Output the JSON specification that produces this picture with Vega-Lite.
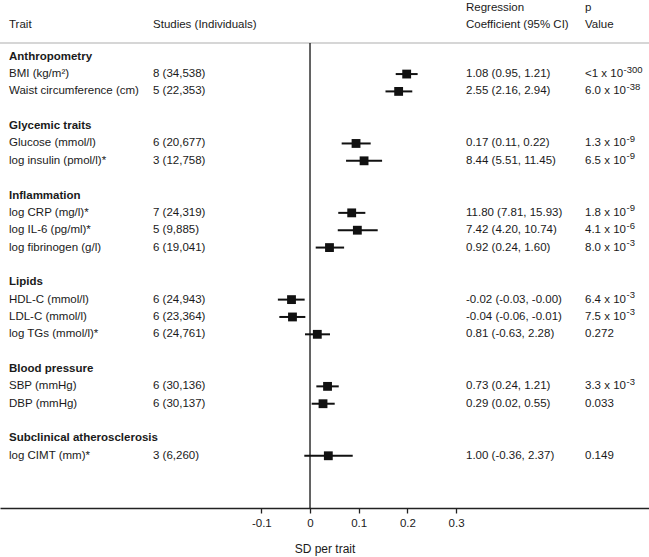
{
  "$schema": "https://vega.github.io/schema/vega-lite/v6.json",
  "width": 649,
  "height": 465,
  "autosize": {"type": "none"},
  "padding": {"top": 43, "bottom": 49, "left": 0, "right": 0},
  "background": "white",
  "config": {
    "view": {"stroke": null},
    "font": "Liberation Sans",
    "text": {"font": "Liberation Sans", "fontSize": 11.5, "color": "#1a1a1a", "align": "left", "baseline": "middle"}
  },
  "data": {
    "values": [
      {"i": 0, "type": "head", "label": "Anthropometry"},
      {"i": 1, "type": "item", "label": "BMI (kg/m²)", "studies": "8 (34,538)", "coef": "1.08 (0.95, 1.21)", "p": "<1 x 10", "pexp": "-300", "est": 0.1985, "lo": 0.176, "hi": 0.221},
      {"i": 2, "type": "item", "label": "Waist circumference (cm)", "studies": "5 (22,353)", "coef": "2.55 (2.16, 2.94)", "p": "6.0 x 10", "pexp": "-38", "est": 0.182, "lo": 0.155, "hi": 0.210},
      {"i": 4, "type": "head", "label": "Glycemic traits"},
      {"i": 5, "type": "item", "label": "Glucose (mmol/l)", "studies": "6 (20,677)", "coef": "0.17 (0.11, 0.22)", "p": "1.3 x 10", "pexp": "-9", "est": 0.0945, "lo": 0.065, "hi": 0.1246},
      {"i": 6, "type": "item", "label": "log insulin (pmol/l)*", "studies": "3 (12,758)", "coef": "8.44 (5.51, 11.45)", "p": "6.5 x 10", "pexp": "-9", "est": 0.111, "lo": 0.074, "hi": 0.148},
      {"i": 8, "type": "head", "label": "Inflammation"},
      {"i": 9, "type": "item", "label": "log CRP (mg/l)*", "studies": "7 (24,319)", "coef": "11.80 (7.81, 15.93)", "p": "1.8 x 10", "pexp": "-9", "est": 0.0856, "lo": 0.058, "hi": 0.1136},
      {"i": 10, "type": "item", "label": "log IL-6 (pg/ml)*", "studies": "5 (9,885)", "coef": "7.42 (4.20, 10.74)", "p": "4.1 x 10", "pexp": "-6", "est": 0.0972, "lo": 0.057, "hi": 0.139},
      {"i": 11, "type": "item", "label": "log fibrinogen (g/l)", "studies": "6 (19,041)", "coef": "0.92 (0.24, 1.60)", "p": "8.0 x 10", "pexp": "-3", "est": 0.040, "lo": 0.0117, "hi": 0.070},
      {"i": 13, "type": "head", "label": "Lipids"},
      {"i": 14, "type": "item", "label": "HDL-C (mmol/l)", "studies": "6 (24,943)", "coef": "-0.02 (-0.03, -0.00)", "p": "6.4 x 10", "pexp": "-3", "est": -0.038, "lo": -0.066, "hi": -0.011},
      {"i": 15, "type": "item", "label": "LDL-C (mmol/l)", "studies": "6 (23,364)", "coef": "-0.04 (-0.06, -0.01)", "p": "7.5 x 10", "pexp": "-3", "est": -0.036, "lo": -0.063, "hi": -0.0096},
      {"i": 16, "type": "item", "label": "log TGs (mmol/l)*", "studies": "6 (24,761)", "coef": "0.81 (-0.63, 2.28)", "p": "0.272", "est": 0.015, "lo": -0.0103, "hi": 0.041},
      {"i": 18, "type": "head", "label": "Blood pressure"},
      {"i": 19, "type": "item", "label": "SBP (mmHg)", "studies": "6 (30,136)", "coef": "0.73 (0.24, 1.21)", "p": "3.3 x 10", "pexp": "-3", "est": 0.036, "lo": 0.013, "hi": 0.059},
      {"i": 20, "type": "item", "label": "DBP (mmHg)", "studies": "6 (30,137)", "coef": "0.29 (0.02, 0.55)", "p": "0.033", "est": 0.0267, "lo": 0.0034, "hi": 0.0507},
      {"i": 22, "type": "head", "label": "Subclinical atherosclerosis"},
      {"i": 23, "type": "item", "label": "log CIMT (mm)*", "studies": "3 (6,260)", "coef": "1.00 (-0.36, 2.37)", "p": "0.149", "est": 0.0376, "lo": -0.0117, "hi": 0.0877}
    ]
  },
  "layer": [
    {
      "transform": [{"filter": "datum.type == 'item'"}],
      "mark": {"type": "rule", "color": "#111111", "strokeWidth": 2},
      "encoding": {
        "x": {
          "field": "lo", "type": "quantitative",
          "scale": {"domain": [-0.6366, 0.6961], "nice": false, "zero": false},
          "axis": {
            "title": "SD per trait",
            "values": [-0.1, 0, 0.1, 0.2, 0.3],
            "labelExpr": "datum.value == 0 ? '0' : (datum.value < 0 ? '-' + format(-datum.value, '.1f') : format(datum.value, '.1f'))",
            "grid": false,
            "domainColor": "#222222", "domainWidth": 1.5,
            "tickColor": "#222222", "tickWidth": 1.3, "tickSize": 5,
            "labelFont": "Liberation Sans", "labelFontSize": 11.5, "labelColor": "#1a1a1a", "labelPadding": 4, "labelFlush": false,
            "titleFont": "Liberation Sans", "titleFontSize": 12, "titleFontWeight": "normal", "titleColor": "#1a1a1a", "titlePadding": 15
          }
        },
        "x2": {"field": "hi"},
        "y": {
          "field": "i", "type": "quantitative",
          "scale": {"domain": [-0.79, 26.01], "reverse": true, "nice": false, "zero": false},
          "axis": null
        }
      }
    },
    {
      "transform": [{"filter": "datum.type == 'item'"}],
      "mark": {"type": "point", "shape": "square", "filled": true, "size": 78, "color": "#111111", "opacity": 1},
      "encoding": {
        "x": {"field": "est", "type": "quantitative"},
        "y": {"field": "i", "type": "quantitative"}
      }
    },
    {
      "data": {"values": [{}]},
      "mark": {"type": "rule", "color": "#c8c8c8", "strokeWidth": 1.5},
      "encoding": {"y": {"datum": -0.79}}
    },
    {
      "data": {"values": [{}]},
      "mark": {"type": "rule", "color": "#111111", "strokeWidth": 1.3},
      "encoding": {"x": {"datum": 0}}
    },
    {
      "transform": [{"filter": "datum.type == 'head'"}],
      "mark": {"type": "text", "fontWeight": "bold"},
      "encoding": {
        "x": {"datum": -0.6181},
        "y": {"field": "i", "type": "quantitative"},
        "text": {"field": "label"}
      }
    },
    {
      "transform": [{"filter": "datum.type == 'item'"}],
      "mark": {"type": "text"},
      "encoding": {
        "x": {"datum": -0.6181},
        "y": {"field": "i", "type": "quantitative"},
        "text": {"field": "label"}
      }
    },
    {
      "transform": [{"filter": "datum.type == 'item'"}],
      "mark": {"type": "text"},
      "encoding": {
        "x": {"datum": -0.3224},
        "y": {"field": "i", "type": "quantitative"},
        "text": {"field": "studies"}
      }
    },
    {
      "transform": [{"filter": "datum.type == 'item'"}],
      "mark": {"type": "text"},
      "encoding": {
        "x": {"datum": 0.3203},
        "y": {"field": "i", "type": "quantitative"},
        "text": {"field": "coef"}
      }
    },
    {
      "transform": [{"filter": "datum.type == 'item'"}],
      "mark": {"type": "text"},
      "encoding": {
        "x": {"datum": 0.5647},
        "y": {"field": "i", "type": "quantitative"},
        "text": {"field": "p"}
      }
    },
    {
      "transform": [{"filter": "datum.type == 'item' && datum.pexp && indexof(datum.p, '<') == 0"}],
      "mark": {"type": "text", "fontSize": 9.5, "dx": 38.5, "dy": -4.5},
      "encoding": {
        "x": {"datum": 0.5647},
        "y": {"field": "i", "type": "quantitative"},
        "text": {"field": "pexp"}
      }
    },
    {
      "transform": [{"filter": "datum.type == 'item' && datum.pexp && indexof(datum.p, '<') != 0"}],
      "mark": {"type": "text", "fontSize": 9.5, "dx": 41.5, "dy": -4.5},
      "encoding": {
        "x": {"datum": 0.5647},
        "y": {"field": "i", "type": "quantitative"},
        "text": {"field": "pexp"}
      }
    },
    {
      "data": {"values": [{}]},
      "mark": {"type": "text"},
      "encoding": {"x": {"datum": -0.6181}, "y": {"datum": -1.856}, "text": {"value": "Trait"}}
    },
    {
      "data": {"values": [{}]},
      "mark": {"type": "text"},
      "encoding": {"x": {"datum": -0.3224}, "y": {"datum": -1.856}, "text": {"value": "Studies (Individuals)"}}
    },
    {
      "data": {"values": [{}]},
      "mark": {"type": "text"},
      "encoding": {"x": {"datum": 0.3203}, "y": {"datum": -2.81}, "text": {"value": "Regression"}}
    },
    {
      "data": {"values": [{}]},
      "mark": {"type": "text"},
      "encoding": {"x": {"datum": 0.3203}, "y": {"datum": -1.856}, "text": {"value": "Coefficient (95% CI)"}}
    },
    {
      "data": {"values": [{}]},
      "mark": {"type": "text"},
      "encoding": {"x": {"datum": 0.5647}, "y": {"datum": -2.81}, "text": {"value": "p"}}
    },
    {
      "data": {"values": [{}]},
      "mark": {"type": "text"},
      "encoding": {"x": {"datum": 0.5647}, "y": {"datum": -1.856}, "text": {"value": "Value"}}
    }
  ]
}
